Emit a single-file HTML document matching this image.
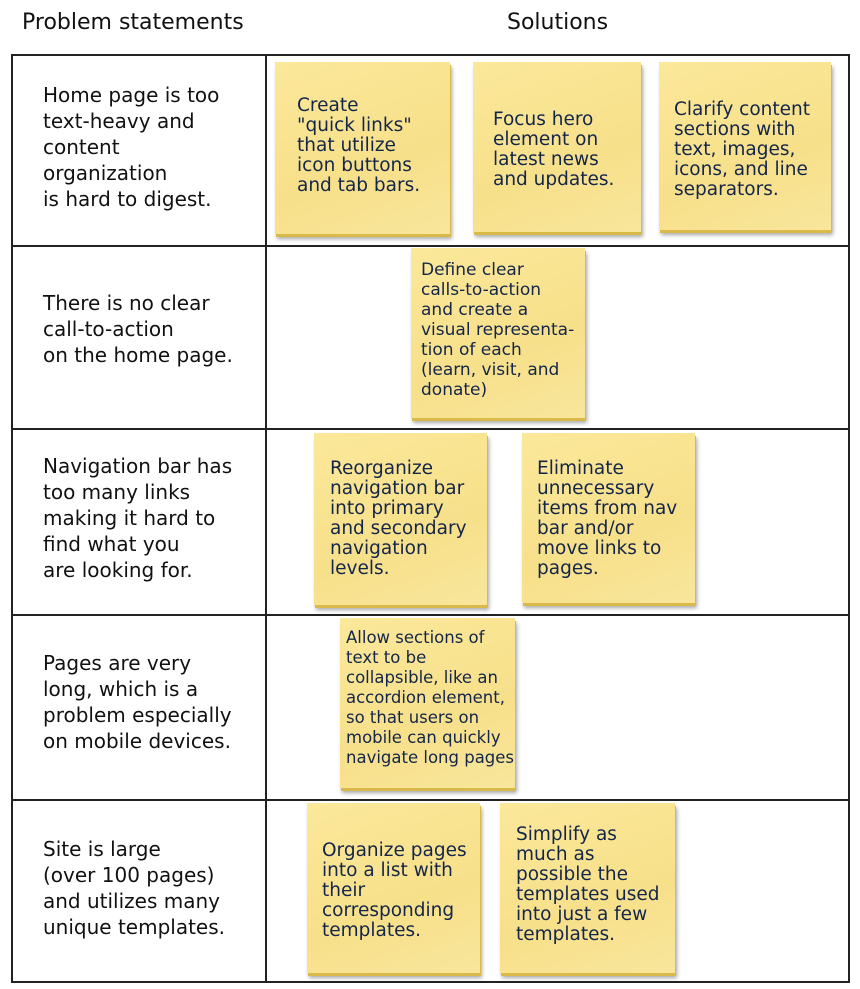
<!DOCTYPE html>
<html><head><meta charset="utf-8"><style>
body{margin:0;width:860px;height:989px;background:#fff;position:relative;overflow:hidden;font-family:"DejaVu Sans","Liberation Sans",sans-serif;}
.h{position:absolute;top:10px;font-size:22px;color:#111;}
.l{position:absolute;background:#222;}
.p{position:absolute;left:43px;font-size:20px;line-height:26px;color:#111;white-space:pre;}
.n{position:absolute;background:linear-gradient(160deg,#fbe89a,#f7e08a 60%,#f9e69c);box-shadow:1px 3px 0 #d9b94a,2px 5px 4px rgba(0,0,0,.35);color:#13254a;font-size:18.5px;line-height:20px;white-space:pre;box-sizing:border-box;}
</style></head><body>
<div class="h" style="left:22px">Problem statements</div>
<div class="h" style="left:507px">Solutions</div>
<div class="l" style="left:11px;top:54px;width:839px;height:2px"></div>
<div class="l" style="left:11px;top:245px;width:839px;height:2px"></div>
<div class="l" style="left:11px;top:428px;width:839px;height:2px"></div>
<div class="l" style="left:11px;top:614px;width:839px;height:2px"></div>
<div class="l" style="left:11px;top:799px;width:839px;height:2px"></div>
<div class="l" style="left:11px;top:981px;width:839px;height:2px"></div>
<div class="l" style="left:11px;top:54px;width:2px;height:929px"></div>
<div class="l" style="left:265px;top:54px;width:2px;height:929px"></div>
<div class="l" style="left:848px;top:54px;width:2px;height:929px"></div>

<div class="p" style="top:82px">Home page is too
text-heavy and
content
organization
is hard to digest.</div>
<div class="p" style="top:290px">There is no clear
call-to-action
on the home page.</div>
<div class="p" style="top:453px">Navigation bar has
too many links
making it hard to
find what you
are looking for.</div>
<div class="p" style="top:650px">Pages are very
long, which is a
problem especially
on mobile devices.</div>
<div class="p" style="top:836px">Site is large
(over 100 pages)
and utilizes many
unique templates.</div>

<div class="n" style="left:275px;top:62px;width:175px;height:172px;padding:34px 0 0 22px">Create
"quick links"
that utilize
icon buttons
and tab bars.</div>
<div class="n" style="left:473px;top:62px;width:168px;height:170px;padding:48px 0 0 20px">Focus hero
element on
latest news
and updates.</div>
<div class="n" style="left:659px;top:62px;width:172px;height:168px;padding:38px 0 0 15px">Clarify content
sections with
text, images,
icons, and line
separators.</div>
<div class="n" style="left:411px;top:248px;width:174px;height:170px;padding:12px 0 0 10px;font-size:17px">Define clear
calls-to-action
and create a
visual representa-
tion of each
(learn, visit, and
donate)</div>
<div class="n" style="left:314px;top:433px;width:173px;height:172px;padding:26px 0 0 16px">Reorganize
navigation bar
into primary
and secondary
navigation
levels.</div>
<div class="n" style="left:522px;top:433px;width:173px;height:170px;padding:26px 0 0 15px">Eliminate
unnecessary
items from nav
bar and/or
move links to
pages.</div>
<div class="n" style="left:340px;top:618px;width:175px;height:170px;padding:10px 0 0 6px;font-size:16.5px">Allow sections of
text to be
collapsible, like an
accordion element,
so that users on
mobile can quickly
navigate long pages</div>
<div class="n" style="left:307px;top:803px;width:173px;height:170px;padding:38px 0 0 15px">Organize pages
into a list with
their
corresponding
templates.</div>
<div class="n" style="left:500px;top:803px;width:175px;height:170px;padding:22px 0 0 16px">Simplify as
much as
possible the
templates used
into just a few
templates.</div>
</body></html>
